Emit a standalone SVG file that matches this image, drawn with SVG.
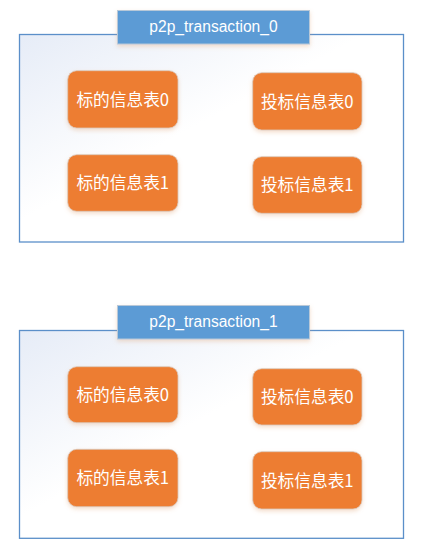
<svg xmlns="http://www.w3.org/2000/svg" width="422" height="551" viewBox="0 0 422 551">
<style>
.box{stroke:#5B8FC9;stroke-width:1.3;fill:url(#bg)}
.hdr{fill:#5B9BD5;stroke:#B8C8D8;stroke-width:1;filter:url(#sh)}
.hdrt{font-family:"Liberation Sans","Noto Sans",sans-serif;font-size:15.6px;fill:#FFFFFF;text-anchor:middle}
.nd{fill:#ED7D31;stroke:#D9C9BE;stroke-width:0.8;filter:url(#sh)}
.ndt{font-family:"Noto Sans CJK SC","Liberation Sans",sans-serif;font-size:16.7px;fill:#FFFFFF;text-anchor:middle}
</style>
<defs>
<linearGradient id="bg" x1="0" y1="0" x2="1" y2="1">
<stop offset="0" stop-color="#E6ECF7"/>
<stop offset="0.45" stop-color="#FFFFFF"/>
<stop offset="1" stop-color="#FFFFFF"/>
</linearGradient>
<filter id="sh" x="-20%" y="-20%" width="140%" height="150%">
<feDropShadow dx="0" dy="2" stdDeviation="2" flood-color="#E0A070" flood-opacity="0.35"/>
</filter>
</defs>
<g id="group0">
<rect class="box" x="19.5" y="34.5" width="384" height="207.5"/>
</g>
<g id="header0">
<rect class="hdr" x="117.5" y="10.5" width="192" height="33.5"/>
<text class="hdrt" x="213.5" y="32">p2p_transaction_0</text>
</g>
<g id="n0a"><rect class="nd" x="67.7" y="70.7" width="110.3" height="57.3" rx="9"/><text class="ndt" x="122.8" y="105.5">标的信息表0</text></g>
<g id="n0b"><rect class="nd" x="252.7" y="72.7" width="109.3" height="57.3" rx="9"/><text class="ndt" x="307.3" y="107.5">投标信息表0</text></g>
<g id="n0c"><rect class="nd" x="67.7" y="154.7" width="110.3" height="56.6" rx="9"/><text class="ndt" x="122.8" y="189">标的信息表1</text></g>
<g id="n0d"><rect class="nd" x="252.7" y="156.7" width="109.3" height="56.6" rx="9"/><text class="ndt" x="307.3" y="191">投标信息表1</text></g>

<g id="group1">
<rect class="box" x="19.5" y="330.5" width="384" height="207.8"/>
</g>
<g id="header1">
<rect class="hdr" x="117.5" y="305.5" width="192" height="33.5"/>
<text class="hdrt" x="213.5" y="327">p2p_transaction_1</text>
</g>
<g id="n1a"><rect class="nd" x="67.7" y="366.7" width="110.3" height="56" rx="9"/><text class="ndt" x="122.8" y="401">标的信息表0</text></g>
<g id="n1b"><rect class="nd" x="252.7" y="368.7" width="109.3" height="56.3" rx="9"/><text class="ndt" x="307.3" y="403">投标信息表0</text></g>
<g id="n1c"><rect class="nd" x="67.7" y="449.3" width="110.3" height="57.4" rx="9"/><text class="ndt" x="122.8" y="484">标的信息表1</text></g>
<g id="n1d"><rect class="nd" x="252.7" y="451.7" width="109.3" height="57.3" rx="9"/><text class="ndt" x="307.3" y="486.5">投标信息表1</text></g>
<g id="connectors"></g>
</svg>
